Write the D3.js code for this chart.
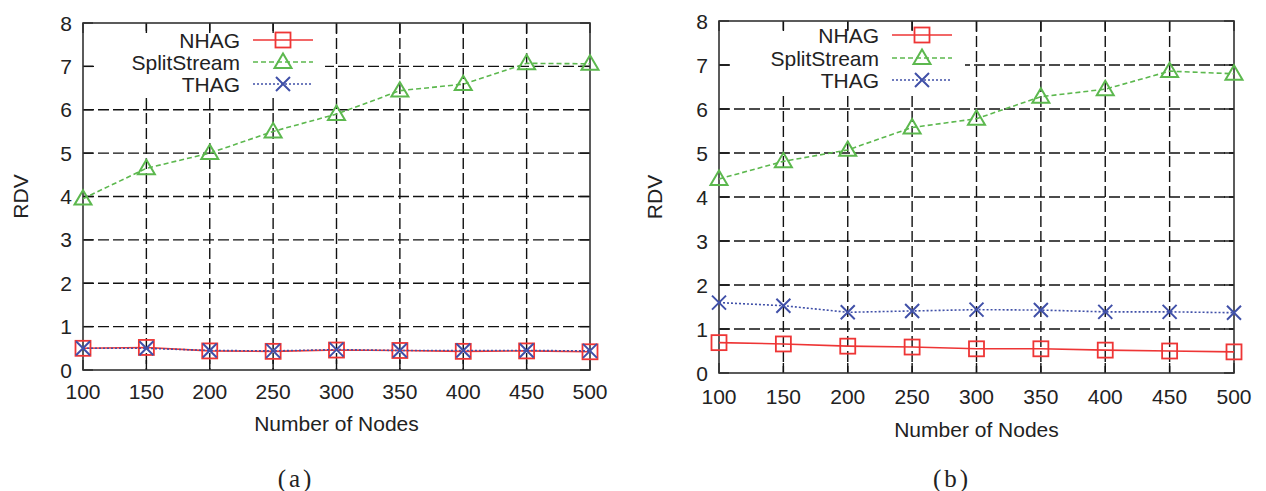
<!DOCTYPE html>
<html><head><meta charset="utf-8">
<script src="https://cdn.jsdelivr.net/npm/d3@7"></script>
<style>
html,body{margin:0;padding:0;background:#fff;}
svg{display:block;}
text{font-family:"Liberation Sans",Arial,sans-serif;fill:#222;}
</style></head>
<body>
<svg id="chart" width="1266" height="491"></svg>
<script>
// ---- data ----
const nodes = [100,150,200,250,300,350,400,450,500];
const yTickValues = [0,1,2,3,4,5,6,7,8];
const seriesNames = ["NHAG","SplitStream","THAG"];
const nhagA  = [0.50,0.52,0.44,0.43,0.46,0.45,0.43,0.44,0.42];
const splitA = [3.95,4.65,5.00,5.50,5.90,6.44,6.59,7.07,7.06];
const thagA  = [0.50,0.50,0.45,0.44,0.47,0.45,0.45,0.45,0.44];
const nhagB  = [0.69,0.66,0.61,0.59,0.55,0.55,0.52,0.50,0.48];
const splitB = [4.41,4.81,5.07,5.58,5.78,6.28,6.45,6.86,6.80];
const thagB  = [1.60,1.53,1.38,1.41,1.44,1.43,1.39,1.39,1.37];
const captions = ["(a)","(b)"];
const xTitle = "Number of Nodes";
const yTitle = "RDV";

// ---- styles ----
const styles = {
  NHAG:        {color:"#ee3535", dash:null,   marker:"square"},
  SplitStream: {color:"#5cb84e", dash:"5,3",  marker:"triangle"},
  THAG:        {color:"#4050a8", dash:"2,2",  marker:"cross"}
};

const svg = d3.select("#chart");

const panels = [
  {x0:83, x1:590, y0:23, y1:370, data:[nhagA,splitA,thagA], legX:240, legY:[40,62,84], box:[97,31,228,65],
   xLabY:399, xTitleY:431, yTitleX:21, capX:296, caption:captions[0]},
  {x0:719, x1:1234, y0:21, y1:373, data:[nhagB,splitB,thagB], legX:879, legY:[35,58,80], box:[733,30,232,62],
   xLabY:404, xTitleY:437, yTitleX:655, capX:952, caption:captions[1]}
];

function drawMarker(g, type, cx, cy, color){
  if(type==="square"){
    g.append("rect").attr("x",cx-7.5).attr("y",cy-7.5).attr("width",15).attr("height",15)
      .attr("fill","none").attr("stroke",color).attr("stroke-width",1.8);
  } else if(type==="triangle"){
    const s=8.5;
    g.append("path").attr("d",`M${cx},${cy-s} L${cx+s},${cy+s*0.7} L${cx-s},${cy+s*0.7} Z`)
      .attr("fill","none").attr("stroke",color).attr("stroke-width",2);
  } else {
    const s=7;
    g.append("path").attr("d",`M${cx-s},${cy-s} L${cx+s},${cy+s} M${cx-s},${cy+s} L${cx+s},${cy-s}`)
      .attr("fill","none").attr("stroke",color).attr("stroke-width",2);
  }
}

panels.forEach(p=>{
  const x = d3.scaleLinear().domain([100,500]).range([p.x0,p.x1]);
  const y = d3.scaleLinear().domain([0,8]).range([p.y1,p.y0]);
  const g = svg.append("g");

  // grid
  g.selectAll(".hg").data(yTickValues.slice(1,-1)).join("line")
    .attr("x1",p.x0).attr("x2",p.x1).attr("y1",d=>y(d)).attr("y2",d=>y(d))
    .attr("stroke","#111").attr("stroke-width",1.4).attr("stroke-dasharray","11,4");
  g.selectAll(".vg").data(nodes.slice(1,-1)).join("line")
    .attr("x1",d=>x(d)).attr("x2",d=>x(d)).attr("y1",p.y0).attr("y2",p.y1)
    .attr("stroke","#111").attr("stroke-width",1.4).attr("stroke-dasharray","11,4");

  // legend box (opaque)
  g.append("rect").attr("x",p.box[0]).attr("y",p.box[1]).attr("width",p.box[2]).attr("height",p.box[3]).attr("fill","#fff");

  // inward ticks
  const tl = 10;
  yTickValues.forEach(v=>{
    g.append("line").attr("x1",p.x0).attr("x2",p.x0+tl).attr("y1",y(v)).attr("y2",y(v)).attr("stroke","#111").attr("stroke-width",1.4);
    g.append("line").attr("x1",p.x1).attr("x2",p.x1-tl).attr("y1",y(v)).attr("y2",y(v)).attr("stroke","#111").attr("stroke-width",1.4);
  });
  nodes.forEach(v=>{
    g.append("line").attr("x1",x(v)).attr("x2",x(v)).attr("y1",p.y1).attr("y2",p.y1-tl).attr("stroke","#111").attr("stroke-width",1.4);
    g.append("line").attr("x1",x(v)).attr("x2",x(v)).attr("y1",p.y0).attr("y2",p.y0+tl).attr("stroke","#111").attr("stroke-width",1.4);
  });

  // frame
  g.append("rect").attr("x",p.x0).attr("y",p.y0).attr("width",p.x1-p.x0).attr("height",p.y1-p.y0)
    .attr("fill","none").attr("stroke","#333").attr("stroke-width",1.6);

  // tick labels
  g.selectAll(".yl").data(yTickValues).join("text")
    .attr("x",p.x0-11).attr("y",d=>y(d)).attr("dy","0.36em").attr("text-anchor","end")
    .attr("font-size",21).text(d=>d);
  g.selectAll(".xl").data(nodes).join("text")
    .attr("x",d=>x(d)).attr("y",p.xLabY).attr("text-anchor","middle")
    .attr("font-size",21).text(d=>d);

  // titles
  g.append("text").attr("x",(p.x0+p.x1)/2).attr("y",p.xTitleY).attr("text-anchor","middle")
    .attr("font-size",21).text(xTitle);
  g.append("text").attr("transform",`translate(${p.yTitleX+7},${(p.y0+p.y1)/2}) rotate(-90)`)
    .attr("text-anchor","middle").attr("font-size",21).text(yTitle);

  // series
  seriesNames.forEach((name,i)=>{
    const st = styles[name];
    const vals = p.data[i];
    const line = d3.line().x((d,j)=>x(nodes[j])).y(d=>y(d));
    g.append("path").datum(vals).attr("d",line).attr("fill","none")
      .attr("stroke",st.color).attr("stroke-width",1.6)
      .attr("stroke-dasharray",st.dash);
    vals.forEach((v,j)=>drawMarker(g,st.marker,x(nodes[j]),y(v),st.color));

    // legend
    const ly = p.legY[i];
    g.append("text").attr("x",p.legX).attr("y",ly).attr("dy","0.36em").attr("text-anchor","end")
      .attr("font-size",21).text(name);
    g.append("line").attr("x1",p.legX+13).attr("x2",p.legX+73).attr("y1",ly).attr("y2",ly)
      .attr("stroke",st.color).attr("stroke-width",1.6).attr("stroke-dasharray",st.dash);
    drawMarker(g,st.marker,p.legX+43,ly,st.color);
  });

  // caption
  svg.append("text").attr("x",p.capX).attr("y",487).attr("text-anchor","middle")
    .style("font-family","'Liberation Serif','DejaVu Serif',serif").style("letter-spacing","3px")
    .attr("font-size",25).text(p.caption);
});
</script>
</body></html>
